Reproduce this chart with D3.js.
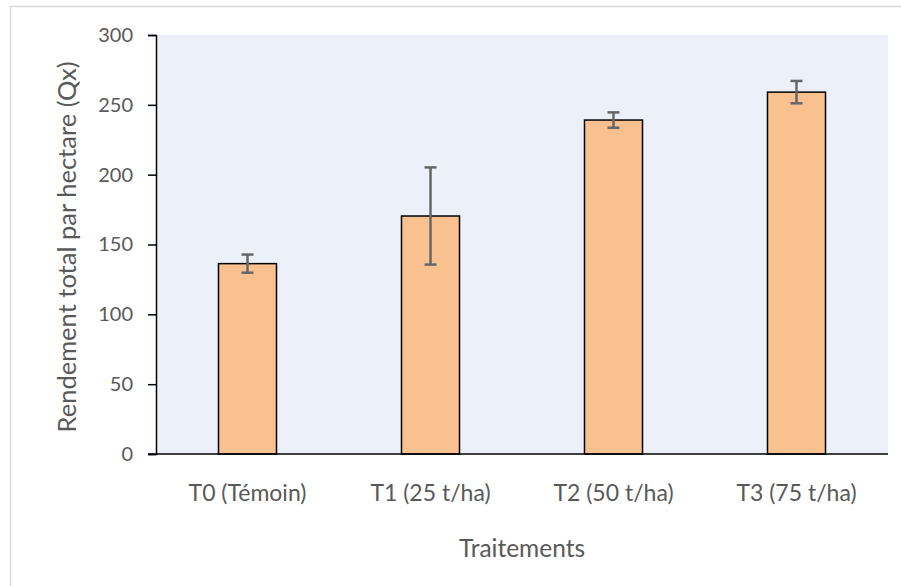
<!DOCTYPE html>
<html><head><meta charset="utf-8">
<script src="https://cdn.jsdelivr.net/npm/d3@7"></script>
<style>body{margin:0;background:#fff}svg{display:block}text{font-family:Lato,"Open Sans",sans-serif;fill:#595959}</style>
</head><body><svg id="c" width="901" height="586"></svg>
<script>
const categories = ["T0 (Témoin)", "T1 (25 t/ha)", "T2 (50 t/ha)", "T3 (75 t/ha)"];
const values = [136.3, 170.4, 239.1, 259.1];
const errors = [6.5, 34.8, 5.5, 8.0];
const yTicks = [0, 50, 100, 150, 200, 250, 300];
const yTitle = "Rendement total par hectare (Qx)";
const xTitle = "Traitements";

const svg = d3.select("#c");
const L = 156, R = 888, T = 35, B = 454;
svg.append("rect").attr("x",10.5).attr("y",6.5).attr("width",900).attr("height",590)
  .attr("fill","#fff").attr("stroke","#d9d9d9").attr("stroke-width",1.5);
svg.append("rect").attr("x",L).attr("y",T).attr("width",R-L).attr("height",B-T).attr("fill","#ECF1F9");

const x = d3.scaleBand().domain(categories).range([L,R]).paddingInner(0.683).paddingOuter(0.3415);
const y = d3.scaleLinear().domain([0,300]).range([B,T]);

svg.selectAll(".bar").data(categories).join("rect")
  .attr("x",d=>x(d)).attr("width",x.bandwidth())
  .attr("y",(d,i)=>y(values[i])).attr("height",(d,i)=>B-y(values[i]))
  .attr("fill","#F9C190").attr("stroke","#000").attr("stroke-width",1.5);

const eb = svg.append("g").attr("stroke","#666").attr("stroke-width",2.5);
categories.forEach((c,i)=>{
  const cx = x(c)+x.bandwidth()/2;
  eb.append("line").attr("x1",cx).attr("x2",cx).attr("y1",y(values[i]+errors[i])).attr("y2",y(values[i]-errors[i]));
  [values[i]+errors[i], values[i]-errors[i]].forEach(v=>{
    eb.append("line").attr("x1",cx-6).attr("x2",cx+6).attr("y1",y(v)).attr("y2",y(v));
  });
});

const ya = svg.append("g").attr("transform",`translate(${L},0)`)
  .call(d3.axisLeft(y).tickValues(yTicks).tickSize(8).tickPadding(15));
ya.select(".domain").attr("stroke","#000").attr("stroke-width",1.5);
ya.selectAll(".tick line").attr("stroke","#000").attr("stroke-width",1.5);
ya.selectAll("text").attr("font-size",20).style("fill","#595959").attr("font-family","Lato");

const xa = svg.append("g").attr("transform",`translate(0,${B})`)
  .call(d3.axisBottom(x).tickSize(0).tickPadding(31));
xa.select(".domain").attr("stroke","#000").attr("stroke-width",1.5).attr("d",`M${L-8},0H${R}`);
xa.selectAll("text").attr("font-size",23).style("fill","#595959").attr("font-family","Lato");

svg.append("text").attr("x",(L+R)/2).attr("y",557).attr("text-anchor","middle").attr("font-size",24.5).text(xTitle);
svg.append("text").attr("transform",`translate(76,247) rotate(-90)`).attr("text-anchor","middle").attr("font-size",25.5).text(yTitle);
</script></body></html>
